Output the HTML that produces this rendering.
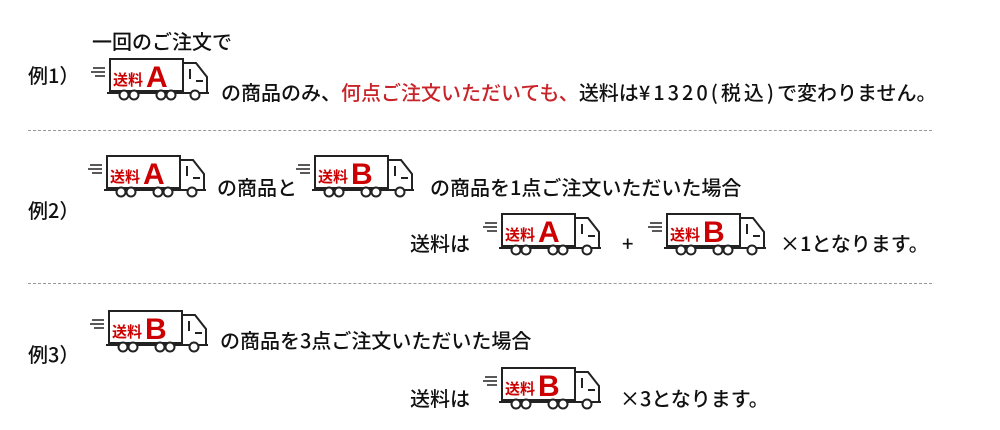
<!DOCTYPE html>
<html><head><meta charset="utf-8"><style>
body{margin:0;width:1000px;height:430px;background:#fff;position:relative;overflow:hidden;font-family:"Noto Sans CJK JP","Liberation Sans",sans-serif;color:#111}
.t{position:absolute;font-size:20px;white-space:nowrap;line-height:22px;font-weight:500}
.r{color:#c8242a}
.w{letter-spacing:3px}
svg{position:absolute}
.d{position:absolute;left:28px;width:904px;border-top:1px dashed #999}
</style></head><body>
<div class="t" style="left:92px;top:30px">一回のご注文で</div>
<div class="t" style="left:28px;top:64px">例1）</div>
<div class="t" style="left:221px;top:81px">の商品のみ、<span class="r">何点ご注文いただいても、</span>送料は<span class="w">¥1320(税込)</span>で変わりません。</div>
<div class="d" style="top:130px"></div>
<div class="t" style="left:28px;top:199px">例2）</div>
<div class="t" style="left:217px;top:176px">の商品と</div>
<div class="t" style="left:430px;top:176px">の商品を1点ご注文いただいた場合</div>
<div class="t" style="left:410px;top:232px">送料は</div>
<div class="t" style="left:622px;top:232px">+</div>
<div class="t" style="left:780px;top:232px">×1となります。</div>
<div class="d" style="top:283px"></div>
<div class="t" style="left:28px;top:343px">例3）</div>
<div class="t" style="left:220px;top:329px">の商品を3点ご注文いただいた場合</div>
<div class="t" style="left:410px;top:387px">送料は</div>
<div class="t" style="left:620px;top:387px">×3となります。</div>

<svg width="0" height="0" style="position:absolute"><defs>
<g id="tr" fill="none" stroke="#222" stroke-width="2">
<path d="M2 11H14M0 15H14M4 19H14" stroke-width="1.5"/>
<rect x="19" y="2" width="73" height="32" fill="#fff"/>
<path d="M92 6H105L116 20V36H92Z" fill="#fff"/>
<path d="M99 12V22M105 24H112"/>
<path d="M16 36H118"/>
<circle cx="33" cy="38" r="4.5" fill="#fff"/><circle cx="43" cy="38" r="4.5" fill="#fff"/>
<circle cx="70" cy="38" r="4.5" fill="#fff"/><circle cx="80" cy="38" r="4.5" fill="#fff"/>
<circle cx="104" cy="38" r="4.5" fill="#fff"/>
</g></defs></svg>

<svg style="left:91px;top:57px" width="122" height="46" viewBox="0 0 122 46"><use href="#tr"/><text x="22" y="28" font-size="15" font-weight="bold" fill="#cc0000" font-family="Noto Sans CJK JP,sans-serif">送料</text><text x="55" y="30" font-size="30" font-weight="bold" fill="#cc0000" font-family="Liberation Sans,sans-serif">A</text></svg>
<svg style="left:88px;top:154px" width="122" height="46" viewBox="0 0 122 46"><use href="#tr"/><text x="22" y="28" font-size="15" font-weight="bold" fill="#cc0000" font-family="Noto Sans CJK JP,sans-serif">送料</text><text x="55" y="30" font-size="30" font-weight="bold" fill="#cc0000" font-family="Liberation Sans,sans-serif">A</text></svg>
<svg style="left:296px;top:154px" width="122" height="46" viewBox="0 0 122 46"><use href="#tr"/><text x="22" y="28" font-size="15" font-weight="bold" fill="#cc0000" font-family="Noto Sans CJK JP,sans-serif">送料</text><text x="55" y="30" font-size="30" font-weight="bold" fill="#cc0000" font-family="Liberation Sans,sans-serif">B</text></svg>
<svg style="left:483px;top:212px" width="122" height="46" viewBox="0 0 122 46"><use href="#tr"/><text x="22" y="28" font-size="15" font-weight="bold" fill="#cc0000" font-family="Noto Sans CJK JP,sans-serif">送料</text><text x="55" y="30" font-size="30" font-weight="bold" fill="#cc0000" font-family="Liberation Sans,sans-serif">A</text></svg>
<svg style="left:648px;top:212px" width="122" height="46" viewBox="0 0 122 46"><use href="#tr"/><text x="22" y="28" font-size="15" font-weight="bold" fill="#cc0000" font-family="Noto Sans CJK JP,sans-serif">送料</text><text x="55" y="30" font-size="30" font-weight="bold" fill="#cc0000" font-family="Liberation Sans,sans-serif">B</text></svg>
<svg style="left:90px;top:309px" width="122" height="46" viewBox="0 0 122 46"><use href="#tr"/><text x="22" y="28" font-size="15" font-weight="bold" fill="#cc0000" font-family="Noto Sans CJK JP,sans-serif">送料</text><text x="55" y="30" font-size="30" font-weight="bold" fill="#cc0000" font-family="Liberation Sans,sans-serif">B</text></svg>
<svg style="left:483px;top:366px" width="122" height="46" viewBox="0 0 122 46"><use href="#tr"/><text x="22" y="28" font-size="15" font-weight="bold" fill="#cc0000" font-family="Noto Sans CJK JP,sans-serif">送料</text><text x="55" y="30" font-size="30" font-weight="bold" fill="#cc0000" font-family="Liberation Sans,sans-serif">B</text></svg>
</body></html>
